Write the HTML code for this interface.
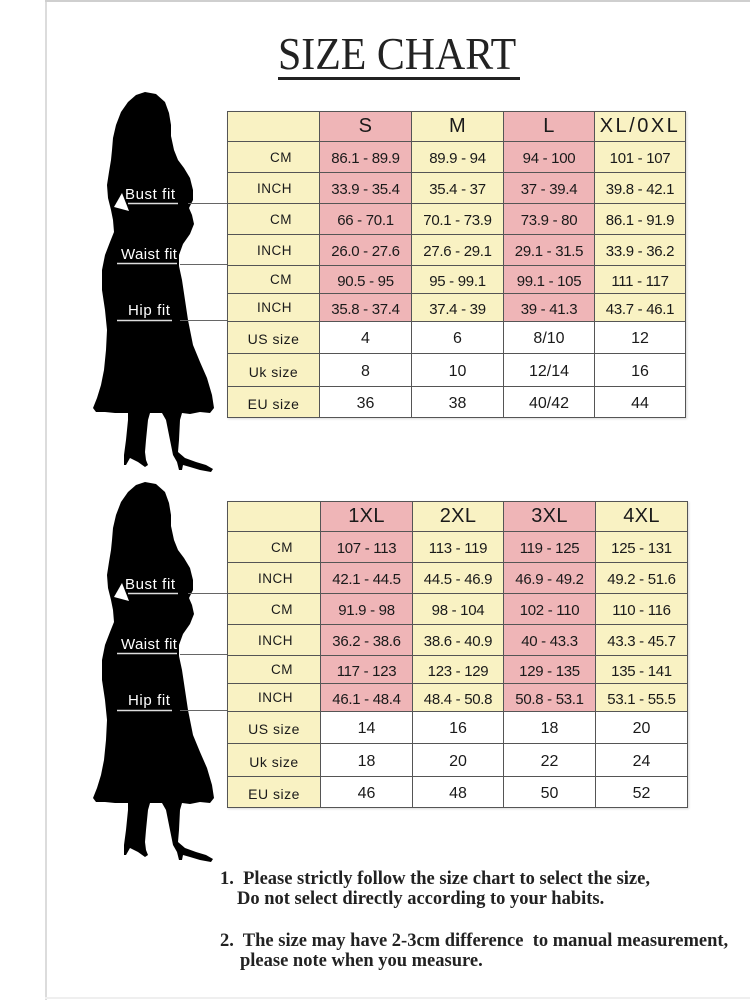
<!DOCTYPE html>
<html><head><meta charset="utf-8">
<style>
html,body{margin:0;padding:0;background:#fff;}
body{width:750px;height:1000px;position:relative;overflow:hidden;font-family:"Liberation Sans",sans-serif;}
.frameL{position:absolute;left:45px;top:0;width:2px;height:1000px;background:#dcdcdc;}
.frameT{position:absolute;left:45px;top:0;width:705px;height:2px;background:#cfcfcf;}
.frameB{position:absolute;left:45px;top:997px;width:705px;height:2px;background:#efefef;}
.title{position:absolute;left:278px;top:31px;font-family:"Liberation Serif",serif;font-size:46px;line-height:46px;color:#222;white-space:nowrap;transform:scaleX(0.91);transform-origin:0 0;}
.uline{position:absolute;left:278px;top:77px;width:242px;height:3px;background:#222;}
.grid{position:absolute;display:grid;background:#555;padding:1px;gap:1px;box-shadow:1px 1px 2px rgba(0,0,0,0.15);}
.grid div{display:flex;align-items:center;justify-content:center;color:#1a1a1a;font-size:15px;letter-spacing:-0.3px;word-spacing:0;white-space:nowrap;padding-top:3px;box-sizing:border-box;}
.grid .y{background:#f9f2c3;}
.grid .p{background:#efb5b7;}
.grid .w{background:#fff;font-size:16px;letter-spacing:0;}
.grid .h{font-size:20px;letter-spacing:0.3px;padding-top:0;}
.grid .lr{justify-content:flex-end;padding-right:27px;font-size:13.5px;letter-spacing:0.5px;padding-top:0;}
.grid .lc{font-size:14px;letter-spacing:0.5px;word-spacing:0;}
.note{position:absolute;font-family:"Liberation Serif",serif;font-weight:bold;font-size:18.5px;color:#222;white-space:pre;line-height:20px;}
svg{position:absolute;left:0;top:0;}
</style></head><body>
<div class="frameL"></div><div class="frameT"></div><div class="frameB"></div>
<div class="title">SIZE CHART</div>
<div class="uline"></div>

<svg width="750" height="1000" viewBox="0 0 750 1000">
<defs>
<g id="fig">
<polygon fill="#000" points="145,92 156,94 165,102 169,113 171,125 171,136 174,150 178,160 184,168 190,178 193,190 193,200 189,208 192,215 194,224 190,234 183,244 179,255 179,266 182,280 185,300 188,320 193,345 200,362 207,378 212,395 214,408 210,413 200,412 190,414 182,413 180,420 179,440 178,452 185,458 196,462 206,465 213,469 211,472 200,470 190,467 183,465 182,470 179,470 177,462 173,455 170,440 166,420 162,413 150,413 148,420 146,440 145,452 146,460 148,465 145,467 138,462 130,458 126,465 124,465 124,455 126,440 128,420 128,413 115,413 105,412 96,412 93,408 97,398 101,385 104,370 106,350 107,330 105,310 102,290 102,270 105,255 110,242 114,232 113,220 111,210 108,198 107,185 109,172 111,160 112,150 113,138 116,125 121,112 128,102 136,95"/>
<polygon fill="#fff" points="122,193 114,207 129,211"/>
<line x1="128" y1="203.5" x2="178" y2="203.5" stroke="#ddd" stroke-width="1.5"/>
<line x1="188" y1="203.5" x2="227" y2="203.5" stroke="#666" stroke-width="1"/>
<line x1="117" y1="263.5" x2="177" y2="263.5" stroke="#ddd" stroke-width="1.5"/>
<line x1="180" y1="264.5" x2="227" y2="264.5" stroke="#666" stroke-width="1"/>
<line x1="117" y1="320.5" x2="172" y2="320.5" stroke="#ddd" stroke-width="1.5"/>
<line x1="180" y1="320.5" x2="227" y2="320.5" stroke="#666" stroke-width="1"/>
<text x="125" y="199" fill="#fff" font-family="Liberation Sans, sans-serif" font-size="15" letter-spacing="0.6">Bust fit</text>
<text x="121" y="259" fill="#fff" font-family="Liberation Sans, sans-serif" font-size="15" letter-spacing="0.4">Waist fit</text>
<text x="128" y="315" fill="#fff" font-family="Liberation Sans, sans-serif" font-size="15" letter-spacing="0.6">Hip fit</text>
</g>
</defs>
<use href="#fig"/>
<use href="#fig" transform="translate(0,390)"/>
</svg>

<div class="grid" style="left:227px;top:111px;grid-template-columns:91px 91px 91px 90px 90px;grid-template-rows:29px 30px 30px 30px 30px 27px 27px 31px 32px 30px;">
<div class="y"></div><div class="p h">S</div><div class="y h">M</div><div class="p h">L</div><div class="y h" style="letter-spacing:2.5px">XL/0XL</div>
<div class="y lr">CM</div><div class="p">86.1 - 89.9</div><div class="y">89.9 - 94</div><div class="p">94 - 100</div><div class="y">101 - 107</div>
<div class="y lr">INCH</div><div class="p">33.9 - 35.4</div><div class="y">35.4 - 37</div><div class="p">37 - 39.4</div><div class="y">39.8 - 42.1</div>
<div class="y lr">CM</div><div class="p">66 - 70.1</div><div class="y">70.1 - 73.9</div><div class="p">73.9 - 80</div><div class="y">86.1 - 91.9</div>
<div class="y lr">INCH</div><div class="p">26.0 - 27.6</div><div class="y">27.6 - 29.1</div><div class="p">29.1 - 31.5</div><div class="y">33.9 - 36.2</div>
<div class="y lr">CM</div><div class="p">90.5 - 95</div><div class="y">95 - 99.1</div><div class="p">99.1 - 105</div><div class="y">111 - 117</div>
<div class="y lr">INCH</div><div class="p">35.8 - 37.4</div><div class="y">37.4 - 39</div><div class="p">39 - 41.3</div><div class="y">43.7 - 46.1</div>
<div class="y lc">US size</div><div class="w">4</div><div class="w">6</div><div class="w">8/10</div><div class="w">12</div>
<div class="y lc">Uk size</div><div class="w">8</div><div class="w">10</div><div class="w">12/14</div><div class="w">16</div>
<div class="y lc">EU size</div><div class="w">36</div><div class="w">38</div><div class="w">40/42</div><div class="w">44</div>
</div>

<div class="grid" style="left:227px;top:501px;grid-template-columns:92px 91px 90px 91px 91px;grid-template-rows:29px 30px 30px 30px 30px 27px 27px 31px 32px 30px;">
<div class="y"></div><div class="p h">1XL</div><div class="y h">2XL</div><div class="p h">3XL</div><div class="y h">4XL</div>
<div class="y lr">CM</div><div class="p">107 - 113</div><div class="y">113 - 119</div><div class="p">119 - 125</div><div class="y">125 - 131</div>
<div class="y lr">INCH</div><div class="p">42.1 - 44.5</div><div class="y">44.5 - 46.9</div><div class="p">46.9 - 49.2</div><div class="y">49.2 - 51.6</div>
<div class="y lr">CM</div><div class="p">91.9 - 98</div><div class="y">98 - 104</div><div class="p">102 - 110</div><div class="y">110 - 116</div>
<div class="y lr">INCH</div><div class="p">36.2 - 38.6</div><div class="y">38.6 - 40.9</div><div class="p">40 - 43.3</div><div class="y">43.3 - 45.7</div>
<div class="y lr">CM</div><div class="p">117 - 123</div><div class="y">123 - 129</div><div class="p">129 - 135</div><div class="y">135 - 141</div>
<div class="y lr">INCH</div><div class="p">46.1 - 48.4</div><div class="y">48.4 - 50.8</div><div class="p">50.8 - 53.1</div><div class="y">53.1 - 55.5</div>
<div class="y lc">US size</div><div class="w">14</div><div class="w">16</div><div class="w">18</div><div class="w">20</div>
<div class="y lc">Uk size</div><div class="w">18</div><div class="w">20</div><div class="w">22</div><div class="w">24</div>
<div class="y lc">EU size</div><div class="w">46</div><div class="w">48</div><div class="w">50</div><div class="w">52</div>
</div>

<div class="note" style="left:220px;top:869px;">1.  Please strictly follow the size chart to select the size,</div>
<div class="note" style="left:237px;top:889px;">Do not select directly according to your habits.</div>
<div class="note" style="left:220px;top:931px;">2.  The size may have 2-3cm difference  to manual measurement,</div>
<div class="note" style="left:240px;top:951px;">please note when you measure.</div>
</body></html>
